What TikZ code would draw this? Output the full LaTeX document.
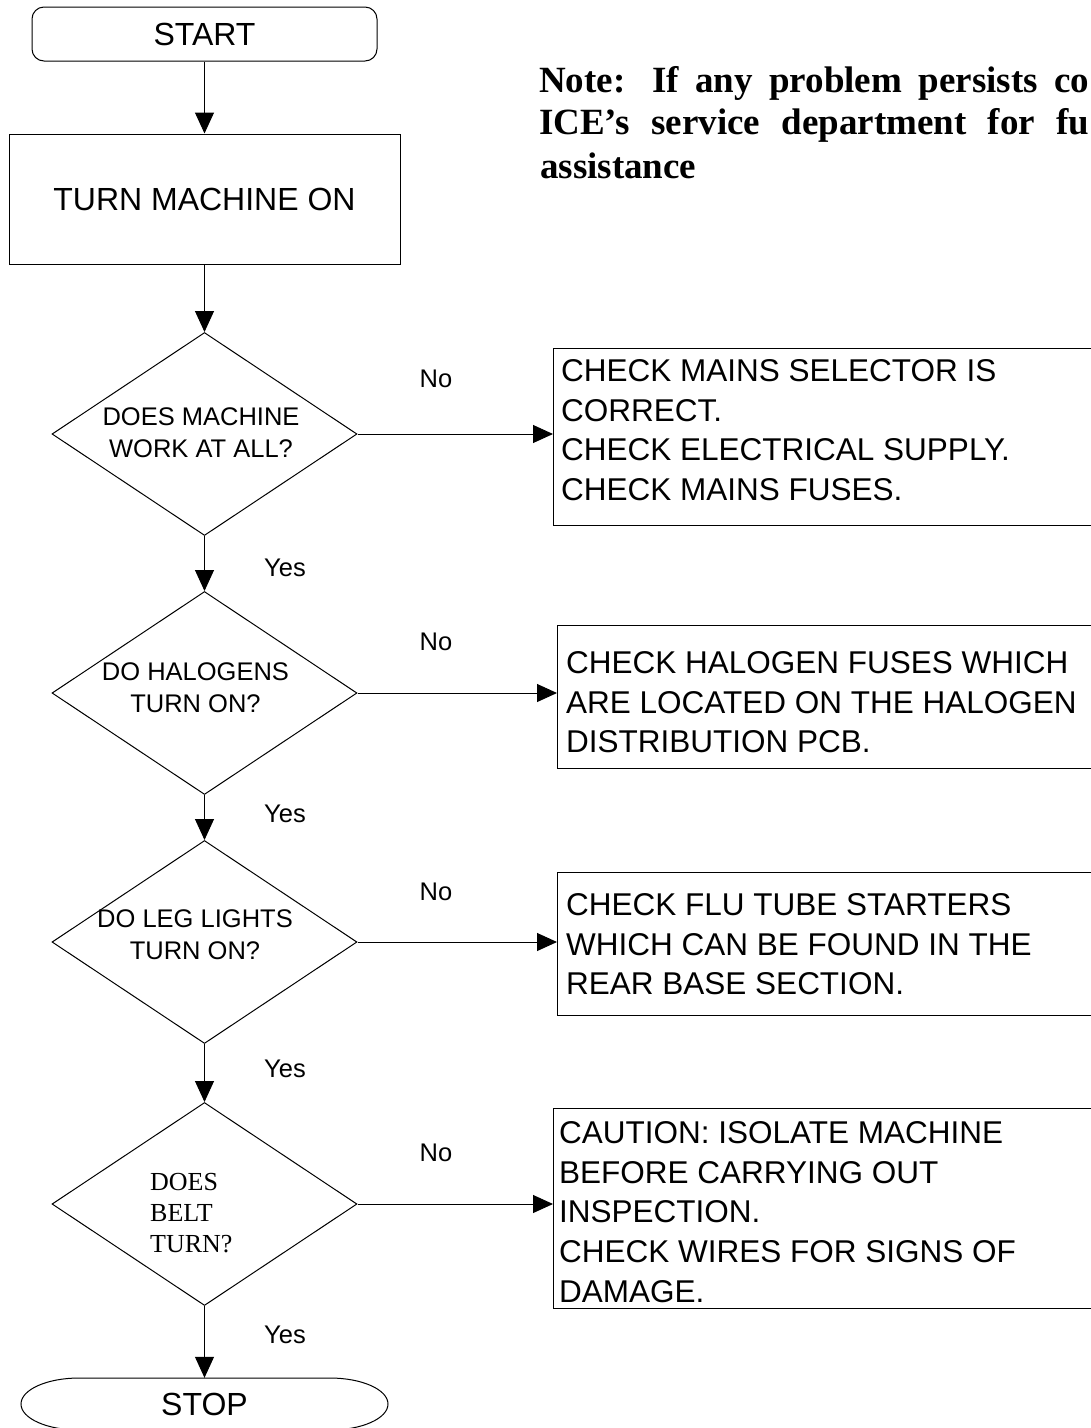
\documentclass[tikz,border=0pt]{standalone}
\usepackage{fontspec}
\setmainfont{Liberation Sans}
\newfontfamily\lsans{Liberation Sans}
\newfontfamily\lserif{Liberation Serif}
\usetikzlibrary{shapes.geometric,arrows.meta}
\newcommand{\capht}[1]{\rule{0pt}{#1}}
\tikzset{
  line/.style={line width=1pt, draw=black},
  arr/.style={line width=1pt, -{Triangle[length=21pt,width=19pt]}},
  harr/.style={line width=1pt, -{Triangle[length=20pt,width=18pt]}},
  decision/.style={diamond, draw, line width=1pt, minimum width=305pt, minimum height=203pt, inner sep=0pt},
  proc/.style={rectangle, draw, line width=1pt, inner sep=0pt},
  bigtext/.style={font={\lsans\fontsize{32}{38}\selectfont}},
  dtext/.style={font={\lsans\fontsize{25.5}{32.5}\selectfont}, align=center, inner sep=0pt, anchor=north},
  btext/.style={font={\lsans\fontsize{31.5}{39.8}\selectfont}, align=left, inner sep=0pt, anchor=north west},
  lbl/.style={font={\lsans\fontsize{25.5}{30}\selectfont}, inner sep=0pt, anchor=base},
  notetext/.style={font={\lserif\bfseries\fontsize{37}{43}\selectfont}, inner sep=0pt, anchor=base west}
}
\begin{document}
\begin{tikzpicture}[x=1pt,y=-1pt]
\useasboundingbox (0,0) rectangle (1091,1428);
\clip (0,0) rectangle (1091,1428);
\fill[white] (0,0) rectangle (1091,1428);

% start / process
\node[proc, bigtext, rounded corners=12pt, minimum width=345pt, minimum height=54pt] (start) at (204.5,34) {START};
\node[proc, bigtext, minimum width=391pt, minimum height=130pt] (turn) at (204.5,199) {TURN MACHINE ON};

% decisions
\node[decision] (d1) at (204.5,434) {};
\node[decision] (d2) at (204.5,693) {};
\node[decision] (d3) at (204.5,942) {};
\node[decision] (d4) at (204.5,1204) {};

\node[dtext] (d1t) at (201,405) {\capht{20pt}DOES MACHINE\\WORK AT ALL?};
\node[dtext] (d2t) at (195.5,660) {\capht{20pt}DO HALOGENS\\TURN ON?};
\node[dtext] (d3t) at (195,907) {\capht{20pt}DO LEG LIGHTS\\TURN ON?};
\node[font={\lserif\fontsize{26}{31}\selectfont}, align=left, inner sep=0pt, anchor=north west] (d4t) at (150,1170) {\capht{20pt}DOES\\BELT\\TURN?};

% stop terminator
\node[inner sep=0pt, minimum width=367pt, minimum height=52pt, bigtext] (stop) at (204.5,1404) {STOP};
\draw[line] (79,1378) -- (330,1378) .. controls (362,1378) and (388,1389.6) .. (388,1404)
  .. controls (388,1418.4) and (362,1430) .. (330,1430) -- (79,1430)
  .. controls (47,1430) and (21,1418.4) .. (21,1404)
  .. controls (21,1389.6) and (47,1378) .. (79,1378) -- cycle;

% action boxes
\node[proc, anchor=north west, minimum width=700pt, minimum height=177pt] (b1) at (553,348) {};
\node[proc, anchor=north west, minimum width=700pt, minimum height=143pt] (b2) at (557,625) {};
\node[proc, anchor=north west, minimum width=700pt, minimum height=143pt] (b3) at (557,872) {};
\node[proc, anchor=north west, minimum width=700pt, minimum height=200pt] (b4) at (553,1108) {};

\node[btext] (b1t) at (561,357) {\capht{24pt}CHECK MAINS SELECTOR IS\\CORRECT.\\CHECK ELECTRICAL SUPPLY.\\CHECK MAINS FUSES.};
\node[btext] (b2t) at (566,649) {\capht{24pt}CHECK HALOGEN FUSES WHICH\\ARE LOCATED ON THE HALOGEN\\DISTRIBUTION PCB.};
\node[btext] (b3t) at (566,891) {\capht{24pt}CHECK FLU TUBE STARTERS\\WHICH CAN BE FOUND IN THE\\REAR BASE SECTION.};
\node[btext] (b4t) at (559,1119) {\capht{24pt}CAUTION: ISOLATE MACHINE\\BEFORE CARRYING OUT\\INSPECTION.\\CHECK WIRES FOR SIGNS OF\\DAMAGE.};

% note
\node[notetext] (n1) at (539,92) {\makebox[550pt][s]{Note: If any problem persists co}};
\node[notetext] (n2) at (539,134) {\makebox[550pt][s]{ICE’s service department for fu}};
\node[notetext] (n3) at (540,178) {assistance};

% connectors
\draw[arr] (start) -- (turn);
\draw[arr] (turn) -- (d1);
\draw[arr] (d1) -- (d2);
\draw[arr] (d2) -- (d3);
\draw[arr] (d3) -- (d4);
\draw[arr] (d4) -- (stop);

\draw[harr] (d1.east) -- (d1.east -| b1.west);
\draw[harr] (d2.east) -- (d2.east -| b2.west);
\draw[harr] (d3.east) -- (d3.east -| b3.west);
\draw[harr] (d4.east) -- (d4.east -| b4.west);

% labels
\node[lbl] (y1) at (285,576) {Yes};
\node[lbl] (y2) at (285,822) {Yes};
\node[lbl] (y3) at (285,1077) {Yes};
\node[lbl] (y4) at (285,1343) {Yes};
\node[lbl] (no1) at (436,387) {No};
\node[lbl] (no2) at (436,650) {No};
\node[lbl] (no3) at (436,900) {No};
\node[lbl] (no4) at (436,1161) {No};
\end{tikzpicture}
\end{document}
